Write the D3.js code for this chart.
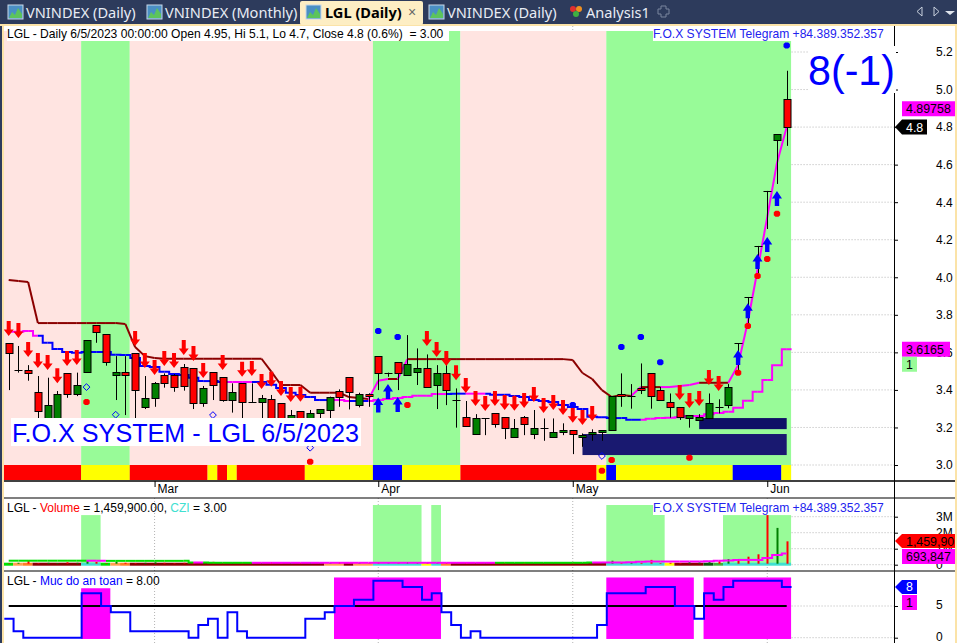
<!DOCTYPE html>
<html><head><meta charset="utf-8"><style>html,body{margin:0;padding:0;background:#fff;overflow:hidden}svg{display:block}text{font-family:"Liberation Sans",Arial,sans-serif}</style>
<script src="https://cdn.jsdelivr.net/npm/d3@7/dist/d3.min.js"></script></head><body><div id="c"></div>
<script>
// ---------- data ----------
const opens =[3.648,3.504,3.504,3.387,3.248,3.248,3.488,3.374,3.493,3.744,3.696,3.475,3.493,3.595,3.305,3.355,3.477,3.477,3.523,3.515,
3.328,3.493,3.467,3.344,3.435,3.334,3.334,3.353,3.328,3.22,3.287,3.24,3.273,3.296,3.396,3.467,3.316,3.376,3.579,3.492,
3.547,3.477,3.493,3.515,3.422,3.488,3.344,3.254,3.161,3.248,3.275,3.254,3.147,3.254,3.161,3.195,3.147,3.172,3.184,3.147,
3.163,3.174,3.183,3.376,3.366,3.408,3.488,3.397,3.334,3.307,3.247,3.236,3.247,3.307,3.316,3.648,3.895,4.167,4.46,4.731,4.95];
const closes=[3.595,3.504,3.486,3.284,3.318,3.376,3.376,3.424,3.664,3.706,3.547,3.493,3.475,3.398,3.355,3.435,3.433,3.413,3.422,3.326,
3.408,3.422,3.342,3.387,3.334,3.334,3.355,3.248,3.24,3.264,3.24,3.275,3.296,3.364,3.364,3.387,3.376,3.364,3.488,3.492,
3.488,3.536,3.515,3.412,3.488,3.396,3.344,3.206,3.248,3.248,3.216,3.193,3.195,3.215,3.195,3.195,3.174,3.184,3.161,3.158,
3.174,3.184,3.366,3.364,3.366,3.396,3.364,3.342,3.305,3.252,3.264,3.254,3.328,3.307,3.413,3.648,3.895,4.167,4.46,4.763,4.8];
const highs =[3.648,3.634,3.532,3.474,3.465,3.394,3.488,3.492,3.664,3.744,3.696,3.58,3.58,3.595,3.474,3.442,3.488,3.484,3.538,3.515,
3.421,3.493,3.467,3.435,3.435,3.435,3.373,3.373,3.328,3.293,3.287,3.293,3.296,3.364,3.403,3.467,3.385,3.382,3.579,3.492,
3.547,3.692,3.621,3.589,3.532,3.532,3.408,3.341,3.271,3.248,3.275,3.254,3.245,3.261,3.293,3.248,3.248,3.222,3.184,3.168,
3.19,3.184,3.366,3.488,3.431,3.541,3.488,3.417,3.381,3.307,3.264,3.271,3.381,3.35,3.431,3.648,3.895,4.167,4.46,4.763,5.1];
const lows  =[3.399,3.492,3.449,3.2,3.2,3.19,3.358,3.367,3.493,3.651,3.529,3.346,3.266,3.2,3.298,3.31,3.412,3.39,3.396,3.298,
3.31,3.346,3.337,3.279,3.24,3.334,3.248,3.24,3.22,3.2,3.22,3.23,3.248,3.248,3.31,3.296,3.307,3.31,3.399,3.47,
3.399,3.477,3.426,3.412,3.298,3.319,3.199,3.206,3.161,3.159,3.199,3.138,3.147,3.159,3.138,3.129,3.147,3.159,3.058,3.097,
3.129,3.129,3.183,3.31,3.3,3.378,3.3,3.342,3.252,3.24,3.199,3.236,3.247,3.275,3.302,3.506,3.746,4.002,4.257,4.497,4.7];
const upperLine=[3.985,3.98,3.975,3.756,3.756,3.756,3.756,3.756,3.756,3.756,3.756,3.756,3.751,3.628,3.58,3.57,3.566,3.566,3.566,3.566,
3.566,3.566,3.566,3.566,3.566,3.566,3.566,3.497,3.426,3.426,3.426,3.385,3.385,3.385,3.385,3.362,3.357,3.351,3.449,3.458,
3.458,3.564,3.564,3.564,3.564,3.564,3.564,3.564,3.564,3.564,3.564,3.564,3.564,3.564,3.564,3.564,3.564,3.564,3.559,3.49,
3.458,3.399,3.362,3.373,3.367,3.415,3.415,3.415,3.415,3.421,3.426,3.438,3.438,3.438,3.438,3.532,3.762,4.039,4.321,4.609,4.8];
const upperMagenta=[37,38,40,64,67,68,69,70,74,75,76,77,78,79];
const lowerLine=[3.71,3.71,3.714,3.689,3.651,3.618,3.602,3.598,3.602,3.602,3.602,3.587,3.586,3.57,3.527,3.522,3.497,3.485,3.479,3.465,
3.447,3.447,3.442,3.442,3.442,3.442,3.442,3.428,3.41,3.385,3.373,3.362,3.346,3.346,3.346,3.341,3.341,3.341,3.346,3.351,
3.357,3.362,3.369,3.369,3.378,3.378,3.38,3.38,3.38,3.38,3.374,3.374,3.367,3.362,3.346,3.341,3.335,3.319,3.309,3.298,
3.257,3.255,3.25,3.25,3.241,3.241,3.246,3.25,3.252,3.255,3.261,3.261,3.271,3.277,3.284,3.305,3.342,3.39,3.453,3.532,3.6165];
const lowerMagenta=[0,1,2,22,23,24,33,34,37,38,39,40,41,42,43,44,47,48,65,66,67,68,69,70,71,72,73,74,75,76,77,78,79];
const arrowsDown=[[0,3.767],[1,3.756],[2,3.655],[3,3.596],[4,3.586],[5,3.516],[6,3.607],[7,3.612],[13,3.714],[14,3.596],[15,3.559],[16,3.607],[17,3.596],[18,3.666],[19,3.634],[20,3.543],[22,3.586],[24,3.55],[25,3.554],[26,3.485],[27,3.497],[28,3.447],[29,3.415],[30,3.417],[43,3.714],[44,3.655],[45,3.607],[46,3.532],[47,3.463],[48,3.394],[49,3.367],[50,3.394],[51,3.373],[52,3.369],[53,3.383],[54,3.415],[55,3.357],[56,3.373],[57,3.346],[58,3.305],[59,3.293],[60,3.314],[69,3.426],[70,3.383],[71,3.394],[72,3.506],[73,3.474]];
const arrowsUp=[[38,3.36],[39,3.431],[40,3.362],[75,3.612],[76,3.861],[77,4.124],[78,4.214],[79,4.46]];
const blueDiamonds=[[38,3.714],[40,3.682],[58,3.319],[63,3.628],[65,3.682],[67,3.548],[80,5.234]];
const redDiamonds=[[8,3.335],[31,3.017],[41,3.319],[61,2.969],[62,3.026],[70,3.039],[75,3.491],[76,3.74],[77,4.007],[78,4.097],[79,4.339]];
const hollowDiamonds=[[8,3.415],[11,3.268],[21,3.266],[31,3.092],[61,3.048]];
const regimes=[[0,8,"pink"],[8,13,"green"],[13,38,"pink"],[38,47,"green"],[47,62,"pink"],[62,81,"green"]];
const stripRuns=[[0,8,"red"],[8,13,"yellow"],[13,21,"red"],[21,22,"yellow"],[22,23,"red"],[23,24,"yellow"],[24,31,"red"],[31,38,"yellow"],[38,41,"blue"],[41,47,"yellow"],[47,61,"red"],[61,62,"yellow"],[62,63,"blue"],[63,75,"yellow"],[75,80,"blue"],[80,81,"yellow"]];
const zones=[[59,80,3.165,3.053,"#191970"],[71,80,3.25,3.191,"#0f0f66"]];
const priceTicks=[3.0,3.2,3.4,3.6,3.8,4.0,4.2,4.4,4.6,4.8,5.0,5.2];
const monthTicks=[15,38,58,78], monthLabels=["Mar","Apr","May","Jun"];
const volumes=[.10,.12,.28,.10,.12,.10,.15,.12,.28,.18,.10,.20,.12,.10,.12,.15,.12,.10,.12,.15,.10,.18,.10,.14,.10,.12,.10,.16,.10,.12,.10,.14,.10,.12,.16,.10,.12,.10,.14,.10,.14,.16,.12,.14,.10,.12,.10,.14,.10,.12,.10,.12,.10,.14,.10,.12,.14,.10,.12,.10,.10,.17,.25,.12,.17,.12,.30,.10,.12,.10,.17,.15,.20,.25,.35,.35,.50,.65,3.10,2.30,1.4599];
const volumeMA=[.25,.25,.25,.25,.25,.25,.25,.25,.25,.25,.24,.24,.24,.24,.24,.24,.24,.24,.24,.14,.13,.12,.12,.12,.12,.12,.12,.12,.12,.12,.12,.12,.12,.12,.12,.12,.12,.12,.12,.12,.12,.12,.12,.12,.12,.12,.12,.12,.12,.12,.12,.12,.12,.12,.12,.12,.12,.12,.12,.12,.13,.14,.14,.14,.15,.18,.2,.2,.2,.2,.2,.2,.22,.25,.27,.3,.3,.3,.42,.6,.693847];
const maGreen=[0,1,2,3,4,5,6,7,10,11,12,13,14,15,16,17,18,20,21,22,23,24,50,51,52,53,54,55,56,57,58,59];
const volRedDoji=[73,75,76,77,78];
const cziRuns=[[0,1,"#00e000"],[1,2,"#ffa050"],[2,3,"#ff7f27"],[3,8,"#8b0000"],[8,10,"#40e0d0"],[10,11,"#00e000"],[11,12,"#ffa050"],[12,13,"#ff7f27"],[13,33,"#8b0000"],[33,35,"#ffa050"],[35,36,"#8b0000"],[36,38,"#ffa050"],[38,43,"#40e0d0"],[43,44,"#ffff00"],[44,45,"#40e0d0"],[45,46,"#ff7f27"],[46,62,"#8b0000"],[62,68,"#40e0d0"],[68,69,"#ffff00"],[69,72,"#8b0000"],[72,73,"#0a5a0a"],[73,74,"#3cb43c"],[74,81,"#40e0d0"]];
const volBands=[[8,10,3.1],[38,43,3.73],[44,45,3.73],[62,68,3.73],[74,81,3.1]];
const volTicks=[0,1,2,3], volTickLabels=["0","1M","2M","3M"];
const safety=[3,1,0,0,0,0,0,0,7,7,5,4,4,1,1,1,1,1,1,0,2,3,0,4,1,0,0,0,0,0,0,3,3,4,5,5,6,6,9,9,9,8,8,6,7,4,2,0,1,0,0,0,0,0,0,0,0,0,0,0,0,2,7,7,7,7,8,8,8,5,5,3,7,6,8,9,9,9,9,9,8];
const safetyBands=[[8,11,7.8],[34,45,9.5],[62,71,9.5],[72,81,9.5]];
const safetyLevel=5, safetyTicks=[0,5];
const tabs=["VNINDEX (Daily)","VNINDEX (Monthly)","LGL (Daily)","VNINDEX (Daily)","Analysis1"];
const tabTextX=[26,165,325,447,586];

// ---------- scales ----------
const W=957,H=643;
const x=d3.scaleLinear().domain([0,80]).range([8.7,786.7]);
const edge=i=>x(i-0.55);
const yP=d3.scaleLinear().domain([3,5.2]).range([465,52]);
const yV=d3.scaleLinear().domain([0,3]).range([564.7,516.7]);
const yS=d3.scaleLinear().domain([0,5]).range([637.7,606]);
const svg=d3.select("#c").append("svg").attr("width",W).attr("height",H);
svg.append("rect").attr("width",W).attr("height",H).attr("fill","#fff");

const GREEN="#98fb98",PINK="#ffe4e1",MAG="#ff00ff",BROWN="#8b0000",BLUE="#0000ff",NAVY="#2d3b5c";
const stripColor={red:"#ff0000",yellow:"#ffff00",blue:"#0000ff"};

// ---------- price pane ----------
const grid=svg.append("g").attr("stroke","#b4b4b4").attr("stroke-dasharray","1 2");
grid.selectAll("line.p").data(priceTicks).join("line").attr("x1",x(80.5)).attr("x2",894).attr("y1",yP).attr("y2",yP);
grid.selectAll("line.v").data(volTicks).join("line").attr("class","v").attr("x1",x(80.5)).attr("x2",894).attr("y1",yV).attr("y2",yV);
grid.selectAll("line.s").data(safetyTicks).join("line").attr("class","s").attr("x1",x(80.5)).attr("x2",894).attr("y1",yS).attr("y2",yS);
monthTicks.forEach(m=>{
  grid.append("line").attr("x1",x(m)).attr("x2",x(m)).attr("y1",498).attr("y2",643);
  grid.append("line").attr("x1",x(m)).attr("x2",x(m)).attr("y1",26).attr("y2",31);
});
svg.selectAll("rect.reg").data(regimes).join("rect").attr("x",d=>edge(d[0])).attr("width",d=>edge(d[1])-edge(d[0]))
  .attr("y",31).attr("height",449).attr("fill",d=>d[2]==="green"?GREEN:PINK);
svg.selectAll("rect.strip").data(stripRuns).join("rect").attr("x",d=>edge(d[0])).attr("width",d=>edge(d[1])-edge(d[0]))
  .attr("y",465).attr("height",15).attr("fill",d=>stripColor[d[2]]);
svg.selectAll("rect.zone").data(zones).join("rect").attr("x",d=>x(d[0])).attr("width",d=>x(d[1])-x(d[0]))
  .attr("y",d=>yP(d[2])).attr("height",d=>yP(d[3])-yP(d[2])).attr("fill",d=>d[4]);

// lines
const lin=d3.line().x(d=>x(d[0])).y(d=>yP(d[1]));
const stp=d3.line().x(d=>x(d[0])).y(d=>yP(d[1])).curve(d3.curveStep);
function segs(vals,mag,gen,base,ext){
  const g=svg.append("g").attr("fill","none").attr("stroke-width",2);
  for(let i=0;i<vals.length-1;i++){
    g.append("path").attr("d",gen([[i,vals[i]],[i+1,vals[i+1]]])).attr("stroke",mag.includes(i)?MAG:base);
    if(ext&&i===vals.length-2) g.append("path").attr("d",gen([[i+1,vals[i+1]],[i+1.5,vals[i+1]]])).attr("stroke",MAG);
  }
}
segs(lowerLine,lowerMagenta,stp,BLUE,true);
segs(upperLine,upperMagenta,lin,BROWN,false);

// candles
const idx=d3.range(opens.length);
const cg=svg.append("g");
cg.selectAll("line.w").data(idx).join("line").attr("x1",i=>Math.round(x(i))+.5).attr("x2",i=>Math.round(x(i))+.5)
  .attr("y1",i=>yP(highs[i])).attr("y2",i=>yP(lows[i])).attr("stroke","#000");
cg.selectAll("rect.b").data(idx.filter(i=>opens[i]!==closes[i])).join("rect")
  .attr("x",i=>Math.round(x(i))-3).attr("width",7)
  .attr("y",i=>Math.round(yP(Math.max(opens[i],closes[i])))+.5)
  .attr("height",i=>Math.max(1,Math.round(Math.abs(yP(opens[i])-yP(closes[i])))))
  .attr("fill",i=>closes[i]<opens[i]?"#ff0000":"#008000").attr("stroke","#000");
cg.selectAll("line.d").data(idx.filter(i=>opens[i]===closes[i])).join("line")
  .attr("x1",i=>Math.round(x(i))-3.5).attr("x2",i=>Math.round(x(i))+4.5)
  .attr("y1",i=>Math.round(yP(closes[i]))+.5).attr("y2",i=>Math.round(yP(closes[i]))+.5).attr("stroke","#000");

// markers
const downArrow="M-2,0H2V8.5H5L0,15L-5,8.5H-2Z";
const upArrow="M0,0L5,7.5H2.2V15H-2.2V7.5H-5Z";
const diamond="M-1.5,-3H1.5L3.2,-1.5V1.5L1.5,3H-1.5L-3.2,1.5V-1.5Z";
const hollow="M0,-3.4L3.4,0L0,3.4L-3.4,0Z";
svg.append("g").selectAll("path").data(arrowsDown).join("path").attr("d",downArrow).attr("fill","#f00")
  .attr("transform",d=>`translate(${x(d[0])},${yP(d[1])})`);
svg.append("g").selectAll("path").data(arrowsUp).join("path").attr("d",upArrow).attr("fill","#00f")
  .attr("transform",d=>`translate(${x(d[0])},${yP(d[1])})`);
svg.append("g").selectAll("path").data(blueDiamonds).join("path").attr("d",diamond).attr("fill","#00f")
  .attr("transform",d=>`translate(${x(d[0])},${yP(d[1])})`);
svg.append("g").selectAll("path").data(redDiamonds).join("path").attr("d",diamond).attr("fill","#f00")
  .attr("transform",d=>`translate(${x(d[0])},${yP(d[1])})`);
svg.append("g").selectAll("path").data(hollowDiamonds).join("path").attr("d",hollow).attr("fill","none").attr("stroke","#00f")
  .attr("transform",d=>`translate(${x(d[0])},${yP(d[1])})`);

// text overlays
function box(xx,yy,w,h,c="#fff"){svg.append("rect").attr("x",xx).attr("y",yy).attr("width",w).attr("height",h).attr("fill",c);}
function txt(xx,yy,s,size,c="#000",anchor="start",w=null){const t=svg.append("text").attr("x",xx).attr("y",yy).attr("font-size",size).attr("fill",c).attr("text-anchor",anchor).text(s);if(w)t.attr("font-weight",w);return t;}
box(11,418,350,28);
txt(12,442,"F.O.X SYSTEM - LGL 6/5/2023",25.15,"#0000ff");
box(7,26,442,15);
txt(7,38,"LGL - Daily 6/5/2023 00:00:00 Open 4.95, Hi 5.1, Lo 4.7, Close 4.8 (0.6%)  \u00a0= 3.00",12.08);
box(653,26,231,15);
txt(653,38,"F.O.X SYSTEM Telegram +84.389.352.357",12.1,"#2222ee");

// ---------- volume pane ----------
svg.selectAll("rect.vb").data(volBands).join("rect").attr("x",d=>edge(d[0])).attr("width",d=>edge(d[1])-edge(d[0]))
  .attr("y",d=>yV(d[2])).attr("height",d=>yV(0)-yV(d[2])).attr("fill",GREEN);
svg.selectAll("rect.cz").data(cziRuns).join("rect").attr("x",d=>edge(d[0])).attr("width",d=>edge(d[1])-edge(d[0]))
  .attr("y",yV(0)-2).attr("height",3).attr("fill",d=>d[2]);
svg.append("g").selectAll("rect").data(idx).join("rect").attr("x",i=>Math.round(x(i))-.5).attr("width",2)
  .attr("y",i=>yV(volumes[i])).attr("height",i=>yV(0)-yV(volumes[i])-1)
  .attr("fill",i=>(closes[i]<opens[i]||volRedDoji.includes(i))?"#ff0000":"#008000");
const maG=svg.append("g").attr("fill","none").attr("stroke-width",2);
const maL=d3.line().x(d=>x(d[0])).y(d=>yV(d[1])).curve(d3.curveStep);
for(let i=0;i<volumeMA.length-1;i++) maG.append("path").attr("d",maL([[i,volumeMA[i]],[i+1,volumeMA[i+1]]])).attr("stroke",maGreen.includes(i)?"#00e000":MAG);
box(653,501,231,14);
txt(653,512,"F.O.X SYSTEM Telegram +84.389.352.357",12.1,"#2222ee");
const vl=txt(7,512,"LGL - ",12);vl.append("tspan").attr("fill","#f00").text("Volume");vl.append("tspan").text(" = 1,459,900.00, ");vl.append("tspan").attr("fill","#40e0d0").text("CZI");vl.append("tspan").text(" = 3.00");

// ---------- safety pane ----------
svg.selectAll("rect.sb").data(safetyBands).join("rect").attr("x",d=>edge(d[0])).attr("width",d=>edge(d[1])-edge(d[0]))
  .attr("y",d=>yS(d[2])).attr("height",d=>yS(-0.2)-yS(d[2])).attr("fill",MAG);
svg.append("line").attr("x1",x(0)).attr("x2",x(80)).attr("y1",yS(safetyLevel)).attr("y2",yS(safetyLevel)).attr("stroke","#000").attr("stroke-width",2);
const sPts=safety.map((v,i)=>[i,v]);sPts.unshift([-0.45,safety[0]]);sPts.push([80.5,safety[80]]);
svg.append("path").attr("d",d3.line().x(d=>x(d[0])).y(d=>yS(d[1])).curve(d3.curveStep)(sPts)).attr("fill","none").attr("stroke",BLUE).attr("stroke-width",2);
const sl=txt(7,585,"LGL - ",12);sl.append("tspan").attr("fill","#00f").text("Muc do an toan");sl.append("tspan").text(" = 8.00");

// ---------- axes ----------
function ra(scale,vals,fmt){
  const g=svg.append("g").attr("transform","translate(894,0)").call(d3.axisRight(scale).tickValues(vals).tickSize(4).tickPadding(38).tickFormat(fmt));
  g.select(".domain").remove();
  g.selectAll("text").attr("font-size",12).attr("font-family",'"Liberation Sans",Arial,sans-serif').attr("fill","#000");
  return g;
}
ra(yP,priceTicks,d3.format(".1f"));
ra(yV,volTicks,(d,i)=>volTickLabels[i]);
ra(yS,safetyTicks,d3.format("d")).selectAll("text").attr("dy","0.2em");
box(808,46,88,47);
const xa=svg.append("g").attr("transform","translate(0,481)").call(d3.axisBottom(x).tickValues(monthTicks).tickSize(6).tickPadding(-3).tickFormat((d,i)=>monthLabels[i]));
xa.select(".domain").remove();
xa.selectAll("text").attr("font-size",12).attr("font-family",'"Liberation Sans",Arial,sans-serif').attr("fill","#000").attr("text-anchor","start").attr("dx",2.5);
[481,498,571].forEach(yy=>svg.append("line").attr("x1",4).attr("x2",955).attr("y1",yy).attr("y2",yy).attr("stroke","#000").attr("stroke-width",yy===481?1.5:1.2));
svg.append("line").attr("x1",894.5).attr("x2",894.5).attr("y1",26).attr("y2",46).attr("stroke","#000");
svg.append("line").attr("x1",894.5).attr("x2",894.5).attr("y1",93).attr("y2",643).attr("stroke","#000");
txt(808,85,"8(-1)",43,"#0000ff").attr("textLength",87).attr("lengthAdjust","spacingAndGlyphs");

// value tags: text always starts at x=906
function tag(xx,yc,w,h,c,s,tc,ptr){
  const p=ptr?`M${xx},${yc}L${xx+7},${yc-h/2}H${xx+w}V${yc+h/2}H${xx+7}Z`:`M${xx},${yc-h/2}H${xx+w}V${yc+h/2}H${xx}Z`;
  svg.append("path").attr("d",p).attr("fill",c);
  txt(906,yc+4.5,s,12.4,tc);
}
tag(902,yP(4.89758),53,15,MAG,"4.89758","#000");
tag(895,yP(4.8),32,15,"#000","4.8","#fff",true);
tag(902,yP(3.6165),48,15,MAG,"3.6165","#000");
tag(902,yP(3.6165)+15,15,15,"#98fb98","1","#000");
tag(895,541,60,14,"#ff0000","1,459,900","#000",true);
tag(902,556.5,53,15,MAG,"693,847","#000");
tag(895,yS(8),22,14,BLUE,"8","#fff",true);
tag(902,602.5,15,15,MAG,"1","#000");

// ---------- window chrome ----------
const tg=svg.append("g");
tg.append("rect").attr("width",W).attr("height",24).attr("fill",NAVY);
tg.append("rect").attr("x",0).attr("y",0).attr("width",2).attr("height",H).attr("fill",NAVY);
tg.append("rect").attr("x",0).attr("y",24).attr("width",W).attr("height",2).attr("fill","#fbe3a8");
tg.append("rect").attr("x",2).attr("y",24).attr("width",2).attr("height",H-24).attr("fill","#fbe3a8");
tg.append("rect").attr("x",955).attr("y",24).attr("width",2).attr("height",H-24).attr("fill","#fbe3a8");
tg.append("rect").attr("x",300).attr("y",1).attr("width",123).attr("height",24).attr("rx",2).attr("fill","#fdeec4");
function icon(ix){
  tg.append("rect").attr("x",ix).attr("y",5).attr("width",15).attr("height",14).attr("fill","#4a8fc4").attr("stroke","#c8d8e8");
  tg.append("path").attr("d",`M${ix+1},18L${ix+4},12L${ix+7},15L${ix+10},8L${ix+14},14V18Z`).attr("fill","#5cc45c");
}
[8,147,306,429].forEach(icon);
tabs.forEach((t,i)=>{
  const s=tg.append("text").attr("x",tabTextX[i]).attr("y",18).attr("font-size",14.6).attr("fill",i===2?"#000":"#e8ecf4").text(t).style("font-family",'"Noto Sans",sans-serif');
  if(i===2)s.attr("font-weight","bold");
});
tg.append("text").attr("x",408).attr("y",17).attr("font-size",14).attr("fill","#666").text("\u00d7");
tg.append("circle").attr("cx",573).attr("cy",9).attr("r",3).attr("fill","#e03030");
tg.append("circle").attr("cx",579).attr("cy",9).attr("r",3).attr("fill","#f09020");
tg.append("circle").attr("cx",576).attr("cy",14).attr("r",3).attr("fill","#40b040");
tg.append("path").attr("d","M661,6h5v3h3v5h-3v3h-5v-3h-3v-5h3z").attr("fill","none").attr("stroke","#7a869e");
tg.append("path").attr("d","M922,7L917,11.5L922,16Z").attr("fill","none").attr("stroke","#c8d0dc");
tg.append("path").attr("d","M934,7L939,11.5L934,16Z").attr("fill","none").attr("stroke","#c8d0dc");
tg.append("path").attr("d","M945,11H955L950,15Z").attr("fill","#dfe4ec");
</script></body></html>
